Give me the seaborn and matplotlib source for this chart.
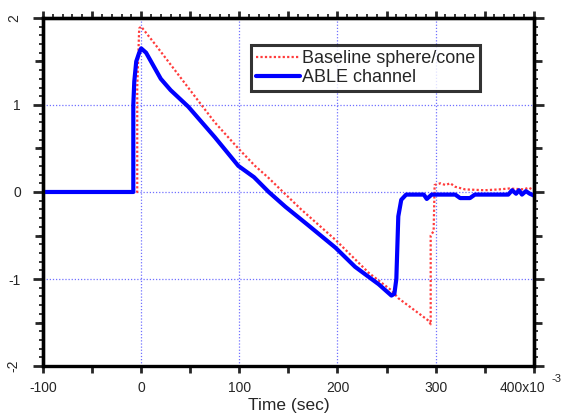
import numpy as np
import pandas as pd
import matplotlib
matplotlib.use("Agg")
import matplotlib.pyplot as plt
import matplotlib.transforms as mtransforms
from matplotlib.ticker import MultipleLocator, FixedLocator
import seaborn as sns

# ---- data ----
able_t = [-100, -8, -8, -7, -5, -2, 0, 5, 10, 20, 30, 48, 75, 99, 115, 130, 147, 170,
          198, 218, 242, 255, 258, 260, 262, 265, 270, 288, 291, 296, 320, 325, 335, 340,
          374, 378, 382, 385, 388, 392, 396, 400]
able_v = [0, 0, 1.0, 1.27, 1.5, 1.6, 1.65, 1.6, 1.5, 1.3, 1.17, 0.98, 0.63, 0.3, 0.17, 0.0,
          -0.17, -0.38, -0.64, -0.86, -1.06, -1.19, -1.17, -1.0, -0.28, -0.09, -0.03, -0.03,
          -0.08, -0.03, -0.03, -0.07, -0.07, -0.03, -0.03, 0.02, -0.02, 0.02, -0.03, 0.01,
          -0.02, -0.04]

base_t = [-100, -4, -4, -2, 0, 14, 35, 58, 75, 99, 116, 130, 140, 163, 198, 232, 255, 262,
          293, 295, 295, 298, 299, 305, 310, 315, 320, 330, 350, 365, 375, 390, 395, 400]
base_v = [0, 0, 1.2, 1.88, 1.9, 1.7, 1.39, 1.05, 0.8, 0.5, 0.3, 0.16, 0.05, -0.2, -0.55,
          -0.93, -1.13, -1.22, -1.48, -1.52, -0.5, -0.45, 0.08, 0.1, 0.08, 0.1, 0.06, 0.03,
          0.02, 0.03, 0.04, 0.03, 0.05, 0.02]

series_names = ["Baseline sphere/cone", "ABLE channel"]
x_ticks = [-100, 0, 100, 200, 300, 400]
x_labels = ["-100", "0", "100", "200", "300", "400x10"]
y_ticks = [-2, -1, 0, 1, 2]
y_labels = ["-2", "-1", "0", "1", "2"]
x_label = "Time (sec)"

# ---- styling ----
sns.set_style("white")
plt.rcParams["font.family"] = ["Liberation Sans", "DejaVu Sans"]

fig = plt.figure(figsize=(5.66, 4.16), dpi=100)
ax = fig.add_axes([0.076, 0.120, 0.867, 0.837])

df_base = pd.DataFrame({"t": base_t, "v": base_v})
df_able = pd.DataFrame({"t": able_t, "v": able_v})

sns.lineplot(data=df_base, x="t", y="v", ax=ax, estimator=None, sort=False,
             color="#ff3c3c", linewidth=1.6, linestyle=(0, (1, 1)),
             label=series_names[0])
sns.lineplot(data=df_able, x="t", y="v", ax=ax, estimator=None, sort=False,
             color="#0000ff", linewidth=3.0, label=series_names[1])

ax.set_xlim(x_ticks[0], x_ticks[-1])
ax.set_ylim(y_ticks[0], y_ticks[-1])

ax.set_xticks(x_ticks, labels=x_labels)
ax.set_yticks(y_ticks, labels=y_labels)
ax.xaxis.set_minor_locator(MultipleLocator(50))
ax.yaxis.set_minor_locator(MultipleLocator(0.1))

ax.grid(True, which="major", color="#7070ff", linestyle=(0, (1, 1.5)), linewidth=0.9)
ax.set_axisbelow(True)

for s in ax.spines.values():
    s.set_visible(True)
    s.set_color("black")
    s.set_linewidth(2.4)

ax.tick_params(axis="x", which="major", direction="out", length=5, width=2,
               bottom=True, top=False, labelsize=10, pad=6)
ax.tick_params(axis="x", which="minor", direction="out", length=5, width=2,
               bottom=True, top=False)
ax.tick_params(axis="y", which="major", direction="out", length=7, width=2,
               left=True, right=True, labelsize=10, pad=9)
ax.tick_params(axis="y", which="minor", direction="out", length=3, width=1.3,
               left=True, right=True)

# top axis ticks
sec_top = ax.secondary_xaxis("top")
sec_top.xaxis.set_major_locator(MultipleLocator(50))
sec_top.xaxis.set_minor_locator(MultipleLocator(10))
sec_top.tick_params(which="major", direction="out", length=5, width=2, labeltop=False)
sec_top.tick_params(which="minor", direction="out", length=3, width=1.3)
sec_top.spines["top"].set_linewidth(2.4)

# mid-level y ticks on both sides
for side in ("left", "right"):
    sec = ax.secondary_yaxis(side)
    sec.yaxis.set_major_locator(FixedLocator([-1.5, -0.5, 0.5, 1.5]))
    sec.tick_params(which="major", direction="out", length=5.5, width=2,
                    labelleft=False, labelright=False)
    sec.spines[side].set_linewidth(2.4)

# rotated end labels as in the reference
for lab in ax.get_yticklabels():
    if lab.get_text() in ("2", "-2"):
        lab.set_rotation(90)
        lab.set_va("center")

offset = mtransforms.ScaledTranslation(-8 / 72, 0, fig.dpi_scale_trans)
last = ax.get_xticklabels()[-1]
last.set_transform(last.get_transform() + offset)

ax.set_xlabel(x_label, fontsize=12.5, labelpad=2)
ax.set_ylabel("")
fig.text(557 / 566, 1 - 379 / 416, "-3", fontsize=8, ha="center", va="center")

leg = ax.legend(loc="upper left", bbox_to_anchor=(0.424, 0.923), borderaxespad=0,
                fontsize=13, frameon=True, fancybox=False, handlelength=2.4,
                handletextpad=0.1, labelspacing=0.1, borderpad=0.3)
leg.get_frame().set_edgecolor("black")
leg.get_frame().set_linewidth(2.2)

fig.savefig("out.png", dpi=100, facecolor="white")
